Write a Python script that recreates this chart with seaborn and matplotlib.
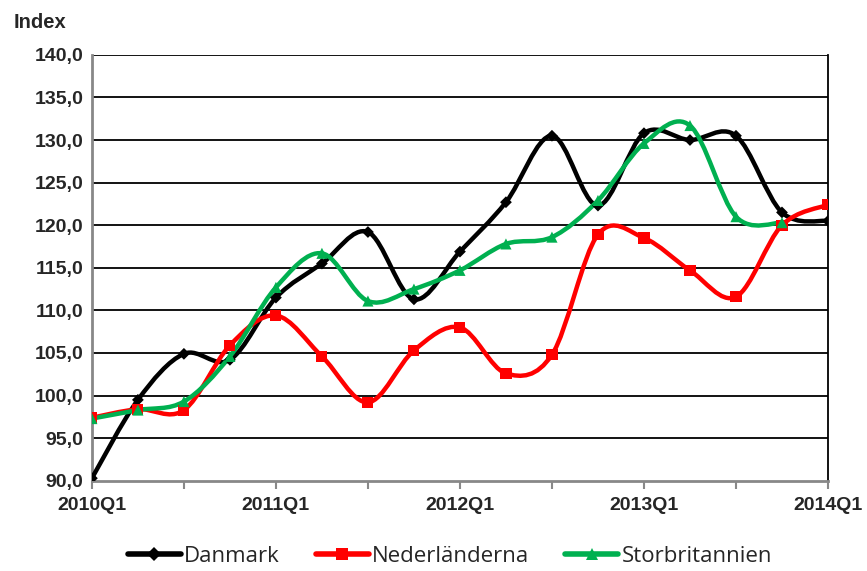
import numpy as np
import matplotlib
matplotlib.use("Agg")
import matplotlib.pyplot as plt
from matplotlib.path import Path
from matplotlib.patches import PathPatch
from matplotlib.lines import Line2D
import seaborn as sns
import pandas as pd

quarters = [f"{y}Q{q}" for y in range(2010, 2014) for q in range(1, 5)] + ["2014Q1"]

danmark = [90.3, 99.5, 104.9, 104.2, 111.5, 115.5, 119.2, 111.3, 116.9,
           122.7, 130.5, 122.3, 130.8, 130.0, 130.5, 121.5, 120.5]
nederlanderna = [97.4, 98.4, 98.3, 105.9, 109.4, 104.6, 99.2, 105.3, 108.0,
                 102.6, 104.8, 118.9, 118.5, 114.7, 111.6, 120.0, 122.4]
storbritannien = [97.3, 98.3, 99.3, 104.6, 112.7, 116.7, 111.1, 112.5, 114.7,
                  117.8, 118.6, 122.9, 129.6, 131.7, 121.0, 120.3, None]

series = ["Danmark", "Nederländerna", "Storbritannien"]
colors = {"Danmark": "#000000", "Nederländerna": "#FF0000", "Storbritannien": "#00B050"}
markers = {"Danmark": "D", "Nederländerna": "s", "Storbritannien": "^"}
msizes = {"Danmark": 6, "Nederländerna": 8, "Storbritannien": 8}

rows = []
for name, vals in zip(series, [danmark, nederlanderna, storbritannien]):
    for i, v in enumerate(vals):
        if v is not None:
            rows.append({"x": i, "quarter": quarters[i], "value": v, "serie": name})
df = pd.DataFrame(rows)

sns.set_theme(style="white")
plt.rcParams["font.family"] = ["Liberation Sans", "DejaVu Sans"]

fig, ax = plt.subplots(figsize=(8.67, 5.71), dpi=100)
fig.subplots_adjust(left=0.106, right=0.955, bottom=0.158, top=0.904)


def smooth_path(xs, ys):
    # Excel-style smoothed line: cubic Bezier segments through the data points
    pts = np.column_stack([xs, ys])
    verts = [tuple(pts[0])]
    codes = [Path.MOVETO]
    n = len(pts)
    for i in range(n - 1):
        p0 = pts[i - 1] if i > 0 else pts[i]
        p1 = pts[i]
        p2 = pts[i + 1]
        p3 = pts[i + 2] if i + 2 < n else pts[i + 1]
        c1 = p1 + (p2 - p0) / 6.0
        c2 = p2 - (p3 - p1) / 6.0
        verts += [tuple(c1), tuple(c2), tuple(p2)]
        codes += [Path.CURVE4] * 3
    return Path(verts, codes)


for name in series:
    d = df[df["serie"] == name]
    patch = PathPatch(smooth_path(d["x"].values, d["value"].values),
                      facecolor="none", edgecolor=colors[name], lw=3.2,
                      capstyle="round", joinstyle="round", zorder=3)
    ax.add_patch(patch)

sns.scatterplot(data=df, x="x", y="value", hue="serie", style="serie",
                palette=colors, markers=markers, size="serie", sizes={k: v ** 2 for k, v in msizes.items()},
                edgecolor=None, linewidth=0, legend=False, ax=ax, zorder=4)

ax.set_xlim(0, 16)
ax.set_ylim(90, 140)
ax.set_yticks(np.arange(90, 141, 5))
ax.set_yticklabels([f"{v:.1f}".replace(".", ",") for v in np.arange(90, 141, 5)],
                   fontsize=14, fontweight="bold")
ax.set_xticks(range(0, 17, 4))
ax.set_xticklabels([quarters[i] for i in range(0, 17, 4)], fontsize=14, fontweight="bold")
ax.set_xticks(range(2, 17, 4), minor=True)
ax.tick_params(axis="x", which="both", direction="out", length=6, width=1.5,
               color="#888888", bottom=True, pad=6)
ax.tick_params(axis="y", length=0, pad=6)
ax.set_xlabel("")
ax.set_ylabel("")

for v in np.arange(95, 141, 5):
    ax.axhline(v, color="black", lw=1.3, zorder=1)

ax.spines["top"].set_visible(False)
ax.spines["right"].set_color("black")
ax.spines["right"].set_linewidth(1.3)
ax.spines["left"].set_color("#888888")
ax.spines["left"].set_linewidth(2)
ax.spines["bottom"].set_color("#888888")
ax.spines["bottom"].set_linewidth(2)

fig.text(0.016, 0.961, "Index", fontsize=14.5, fontweight="bold", va="center")

handles = [Line2D([0], [0], color=colors[n], lw=4, marker=markers[n],
                  markersize=msizes[n] + 1, markeredgewidth=0) for n in series]
fig.legend(handles, series, loc="center", bbox_to_anchor=(0.519, 0.025), ncol=3,
           frameon=False, handlelength=2.4, columnspacing=1.6,
           handletextpad=0.15, prop={"family": ["Open Sans", "DejaVu Sans"], "size": 16})

fig.savefig("out.png", dpi=100)
